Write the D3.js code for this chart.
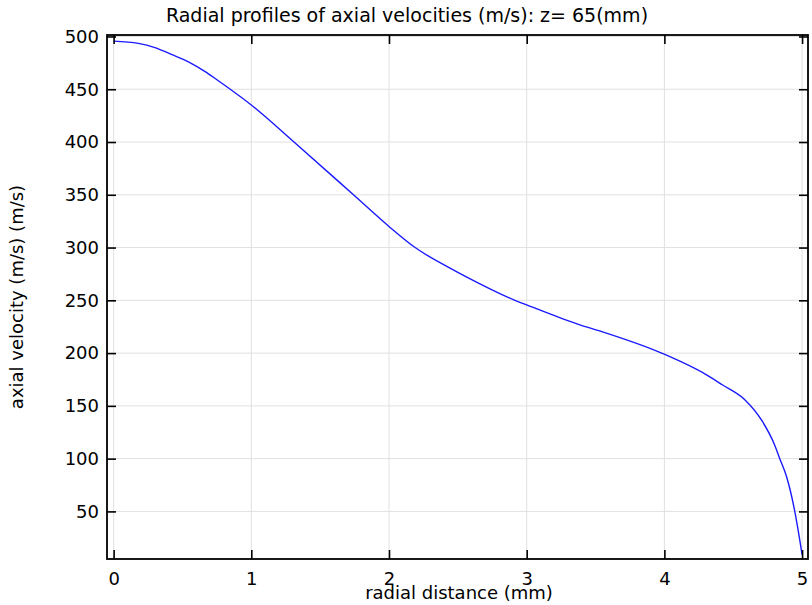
<!DOCTYPE html>
<html>
<head>
<meta charset="utf-8">
<script src="https://cdn.jsdelivr.net/npm/d3@7"></script>
<style>
  html, body { margin: 0; padding: 0; background: #fff; }
  svg { display: block; font-family: "DejaVu Sans", sans-serif; }
</style>
</head>
<body>
<svg id="chart" width="812" height="605"></svg>
<script>
// Radial distance from the axis (mm)
const radius = [0, 0.18, 0.3, 0.42, 0.55, 0.665, 0.75, 0.847, 1.0, 1.31, 1.742, 2.0, 2.19, 2.443, 2.565, 2.915,
  3.0, 3.387, 3.53, 3.98, 4.306, 4.42, 4.584, 4.712, 4.80, 4.838, 4.887, 4.947, 4.983, 5.0];
// Axial velocity at each radius (m/s)
const velocity = [495.6, 493.5, 489.5, 483, 475.5, 466.7, 459, 450, 435.1, 400, 350, 320, 300, 280.5, 272, 250,
  245.7, 226.8, 221, 200, 179.4, 170, 155.8, 135.2, 113.2, 100, 83, 50, 23, 9];

const xTicks = [0, 1, 2, 3, 4, 5];
const yTicks = [50, 100, 150, 200, 250, 300, 350, 400, 450, 500];

const titleText = "Radial profiles of axial velocities (m/s): z= 65(mm)";
const xLabel = "radial distance (mm)";
const yLabel = "axial velocity (m/s) (m/s)";

const svg = d3.select("#chart");
const plotL = 107, plotR = 808, plotT = 35, plotB = 559;
const fontSize = 18;

const x = d3.scaleLinear().domain([-0.048, 5.043]).range([plotL, plotR]);
const y = d3.scaleLinear().domain([4.9, 501.4]).range([plotB, plotT]);

// grid
const grid = svg.append("g");
grid.selectAll("line.gx").data(xTicks).join("line")
  .attr("x1", d => x(d)).attr("x2", d => x(d))
  .attr("y1", plotT).attr("y2", plotB)
  .attr("stroke", "#e0e0e0").attr("stroke-width", 1);
grid.selectAll("line.gy").data(yTicks).join("line")
  .attr("x1", plotL).attr("x2", plotR)
  .attr("y1", d => y(d)).attr("y2", d => y(d))
  .attr("stroke", "#e0e0e0").attr("stroke-width", 1);

// data curve
const pts = radius.map((r, i) => [r, velocity[i]]);
svg.append("path")
  .datum(pts)
  .attr("fill", "none")
  .attr("stroke", "#1a1aff")
  .attr("stroke-width", 1.4)
  .attr("d", d3.line().curve(d3.curveMonotoneX).x(d => x(d[0])).y(d => y(d[1])));

// axes with inward ticks on all four sides
const tickLen = 9;
const axB = d3.axisBottom(x).tickValues(xTicks).tickSizeInner(-tickLen).tickSizeOuter(0).tickPadding(13).tickFormat(d3.format("d"));
const axT = d3.axisTop(x).tickValues(xTicks).tickSizeInner(-tickLen).tickSizeOuter(0).tickFormat("");
const axL = d3.axisLeft(y).tickValues(yTicks).tickSizeInner(-tickLen).tickSizeOuter(0).tickPadding(8).tickFormat(d3.format("d"));
const axR = d3.axisRight(y).tickValues(yTicks).tickSizeInner(-tickLen).tickSizeOuter(0).tickFormat("");

function styleAxis(g) {
  g.select(".domain").remove();
  g.selectAll(".tick line").attr("stroke", "#000").attr("stroke-width", 1.6);
  g.selectAll(".tick text").attr("fill", "#000").attr("font-size", fontSize).attr("font-family", "DejaVu Sans, sans-serif");
}
svg.append("g").attr("transform", `translate(0,${plotB})`).call(axB).call(styleAxis);
svg.append("g").attr("transform", `translate(0,${plotT})`).call(axT).call(styleAxis);
svg.append("g").attr("transform", `translate(${plotL},0)`).call(axL).call(styleAxis);
svg.append("g").attr("transform", `translate(${plotR},0)`).call(axR).call(styleAxis);

// frame
svg.append("rect")
  .attr("x", plotL).attr("y", plotT)
  .attr("width", plotR - plotL).attr("height", plotB - plotT)
  .attr("fill", "none").attr("stroke", "#000").attr("stroke-width", 1.8);

// titles
svg.append("text").attr("x", 407).attr("y", 21.5).attr("text-anchor", "middle")
  .attr("font-size", 19).attr("fill", "#000").text(titleText);
svg.append("text").attr("x", 459).attr("y", 599).attr("text-anchor", "middle")
  .attr("font-size", fontSize).attr("fill", "#000").text(xLabel);
svg.append("text").attr("transform", "translate(23,297) rotate(-90)").attr("text-anchor", "middle")
  .attr("font-size", fontSize).attr("fill", "#000").text(yLabel);
</script>
</body>
</html>
